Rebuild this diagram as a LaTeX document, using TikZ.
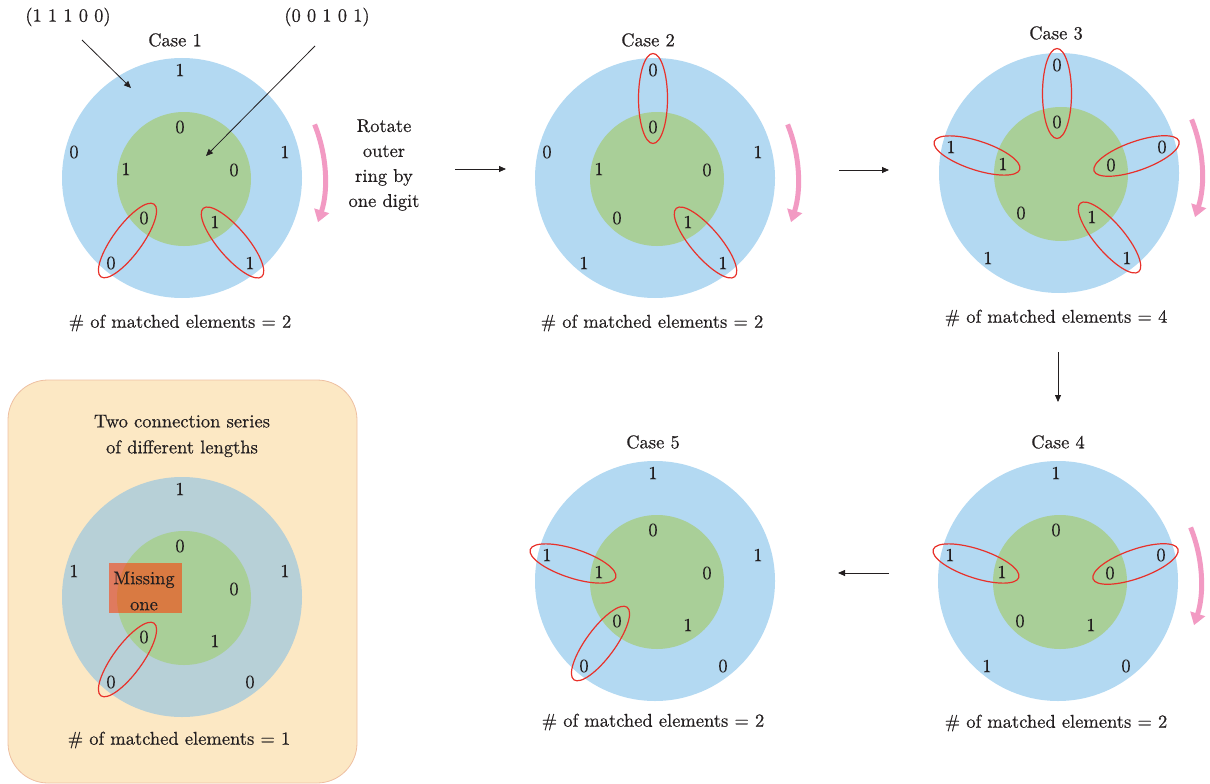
\documentclass[tikz,border=0pt]{standalone}
\usepackage{fontspec}
\setmainfont{lmroman10-regular.otf}[FakeBold=0.5]
\usetikzlibrary{calc,arrows.meta,shapes.geometric}

\definecolor{ringblue}{HTML}{B3D9F2}
\definecolor{ringgreen}{HTML}{A9CF98}
\definecolor{ringgrey}{HTML}{B7D0D7}
\definecolor{pairred}{HTML}{E8312A}
\definecolor{rotpink}{HTML}{F29AC3}
\definecolor{inkgrey}{HTML}{231F20}
\definecolor{notebeige}{HTML}{FCE8C4}
\definecolor{noteedge}{HTML}{EEC0A2}
\definecolor{gaporange}{HTML}{FF3800}

% two concentric discs: outer ring and inner series
\newcommand\ringdisc[3]{%
  \coordinate (#1) at #2;
  \fill[#3] (#1) circle[radius=120pt];
  \fill[ringgreen] ($(#1)+(2,1)$) circle[radius=67pt];}

% outer digits, clockwise from the top: top, right, bottom right, bottom left, left
\newcommand\outerdigits[6]{%
  \node[digit] (#1oT)  at ($(#1)+(-2,-108)$) {#2};
  \node[digit] (#1oR)  at ($(#1)+(103,-26)$) {#3};
  \node[digit] (#1oBR) at ($(#1)+(68,85)$)   {#4};
  \node[digit] (#1oBL) at ($(#1)+(-71,85)$)  {#5};
  \node[digit] (#1oL)  at ($(#1)+(-108,-26)$) {#6};}

% inner digits in the same order
\newcommand\innerdigits[6]{%
  \node[digit] (#1iT)  at ($(#1)+(-2,-51)$) {#2};
  \node[digit] (#1iR)  at ($(#1)+(52,-8)$)  {#3};
  \node[digit] (#1iBR) at ($(#1)+(33,44)$)  {#4};
  \node[digit] (#1iBL) at ($(#1)+(-38,40)$) {#5};
  \if\relax\detokenize{#6}\relax\else
  \node[digit] (#1iL)  at ($(#1)+(-56,-9)$) {#6};\fi}

% red loop round a matched pair of digits
\newcommand\pairloop[3]{%
  \path let \p1=($(#3)-(#2)$), \n1={atan2(\y1,\x1)} in
    node[pair, rotate=\n1] (#1) at ($(#2)!0.5!(#3)$) {};}

% pink arrow showing the rotation of the outer ring
\newcommand\spinarrow[1]{%
  \draw[spin] ($(#1)+(22:143pt)$) arc[start angle=22, end angle=-18, radius=143pt];}

\begin{document}
\begin{tikzpicture}[x=1pt, y=-1pt,
  font=\fontsize{18.5}{22}\selectfont, text=inkgrey,
  digit/.style={inner sep=0pt},
  txt/.style={inner sep=0pt, align=center},
  pair/.style={draw=pairred, line width=1.2pt, ellipse, minimum width=90pt,
               minimum height=29pt, inner sep=0pt},
  flow/.style={draw=inkgrey, line width=0.8pt, -{Triangle[length=7pt,width=6pt]}},
  spin/.style={draw=rotpink, line width=5pt, -{Triangle[length=12pt,width=15pt]}},
]
\useasboundingbox (0,0) rectangle (1210,784);

% note panel
\draw[draw=noteedge, fill=notebeige, line width=0.8pt, rounded corners=40pt]
  (8,380) rectangle (357,783);

% discs
\ringdisc{c1}{(182,178)}{ringblue}
\ringdisc{c2}{(655,178)}{ringblue}
\ringdisc{c3}{(1059,173)}{ringblue}
\ringdisc{c4}{(1058,581)}{ringblue}
\ringdisc{c5}{(655,581)}{ringblue}
\ringdisc{m}{(182,597)}{ringgrey}

% digits
\outerdigits{c1}{1}{1}{1}{0}{0}
\innerdigits{c1}{0}{0}{1}{0}{1}
\outerdigits{c2}{0}{1}{1}{1}{0}
\innerdigits{c2}{0}{0}{1}{0}{1}
\outerdigits{c3}{0}{0}{1}{1}{1}
\innerdigits{c3}{0}{0}{1}{0}{1}
\outerdigits{c4}{1}{0}{0}{1}{1}
\innerdigits{c4}{0}{0}{1}{0}{1}
\outerdigits{c5}{1}{1}{0}{0}{1}
\innerdigits{c5}{0}{0}{1}{0}{1}
\outerdigits{m}{1}{1}{0}{0}{1}
\innerdigits{m}{0}{0}{1}{0}{}

% matched pairs
\pairloop{p1a}{c1oBL}{c1iBL}
\pairloop{p1b}{c1oBR}{c1iBR}
\pairloop{p2a}{c2oT}{c2iT}
\pairloop{p2b}{c2oBR}{c2iBR}
\pairloop{p3a}{c3oT}{c3iT}
\pairloop{p3b}{c3oR}{c3iR}
\pairloop{p3c}{c3oBR}{c3iBR}
\pairloop{p3d}{c3oL}{c3iL}
\pairloop{p4a}{c4oL}{c4iL}
\pairloop{p4b}{c4oR}{c4iR}
\pairloop{p5a}{c5oL}{c5iL}
\pairloop{p5b}{c5oBL}{c5iBL}
\pairloop{pma}{moBL}{miBL}

% missing element marker
\fill[gaporange, fill opacity=0.56] (109,563) rectangle (182,613);
\node[txt, font=\fontsize{18.5}{26}\selectfont] (miss) at (144,591) {Missing\\one};

% rotation arrows
\spinarrow{c1}
\spinarrow{c2}
\spinarrow{c3}
\spinarrow{c4}

% captions
\node[txt] (lab1) at (68,17) {(1 1 1 0 0)};
\node[txt] (lab2) at (327,17) {(0 0 1 0 1)};
\node[txt] (case1) at (175,40) {Case 1};
\node[txt] (case2) at (648,40) {Case 2};
\node[txt] (case3) at (1056,33) {Case 3};
\node[txt] (case4) at (1058,442) {Case 4};
\node[txt] (case5) at (653,442) {Case 5};
\node[txt, font=\fontsize{18.5}{25}\selectfont] (rot) at (384,165)
  {Rotate\\outer\\ring by\\one digit};
\node[txt, font=\fontsize{18.5}{26}\selectfont] (note) at (182,436)
  {Two connection series\\of different lengths};
\node[txt] (res1) at (180,323) {\# of matched elements = 2};
\node[txt] (res2) at (652,323) {\# of matched elements = 2};
\node[txt] (res3) at (1056,318) {\# of matched elements = 4};
\node[txt] (res4) at (1056,723) {\# of matched elements = 2};
\node[txt] (res5) at (653,722) {\# of matched elements = 2};
\node[txt] (resm) at (179,740) {\# of matched elements = 1};

% pointers from the series labels
\coordinate (l1s) at (82,40);  \coordinate (l1e) at (131,88);
\coordinate (l2s) at (315,46); \coordinate (l2e) at (206,156);
\draw[flow] (l1s) -- (l1e);
\draw[flow] (l2s) -- (l2e);

% step arrows between cases
\coordinate (a12s) at (455,169);  \coordinate (a12e) at (506,169);
\coordinate (a23s) at (839,170);  \coordinate (a23e) at (889,170);
\coordinate (a34s) at (1058,352); \coordinate (a34e) at (1058,402);
\coordinate (a45s) at (889,573);  \coordinate (a45e) at (838,573);
\draw[flow] (a12s) -- (a12e);
\draw[flow] (a23s) -- (a23e);
\draw[flow] (a34s) -- (a34e);
\draw[flow] (a45s) -- (a45e);
\end{tikzpicture}
\end{document}
